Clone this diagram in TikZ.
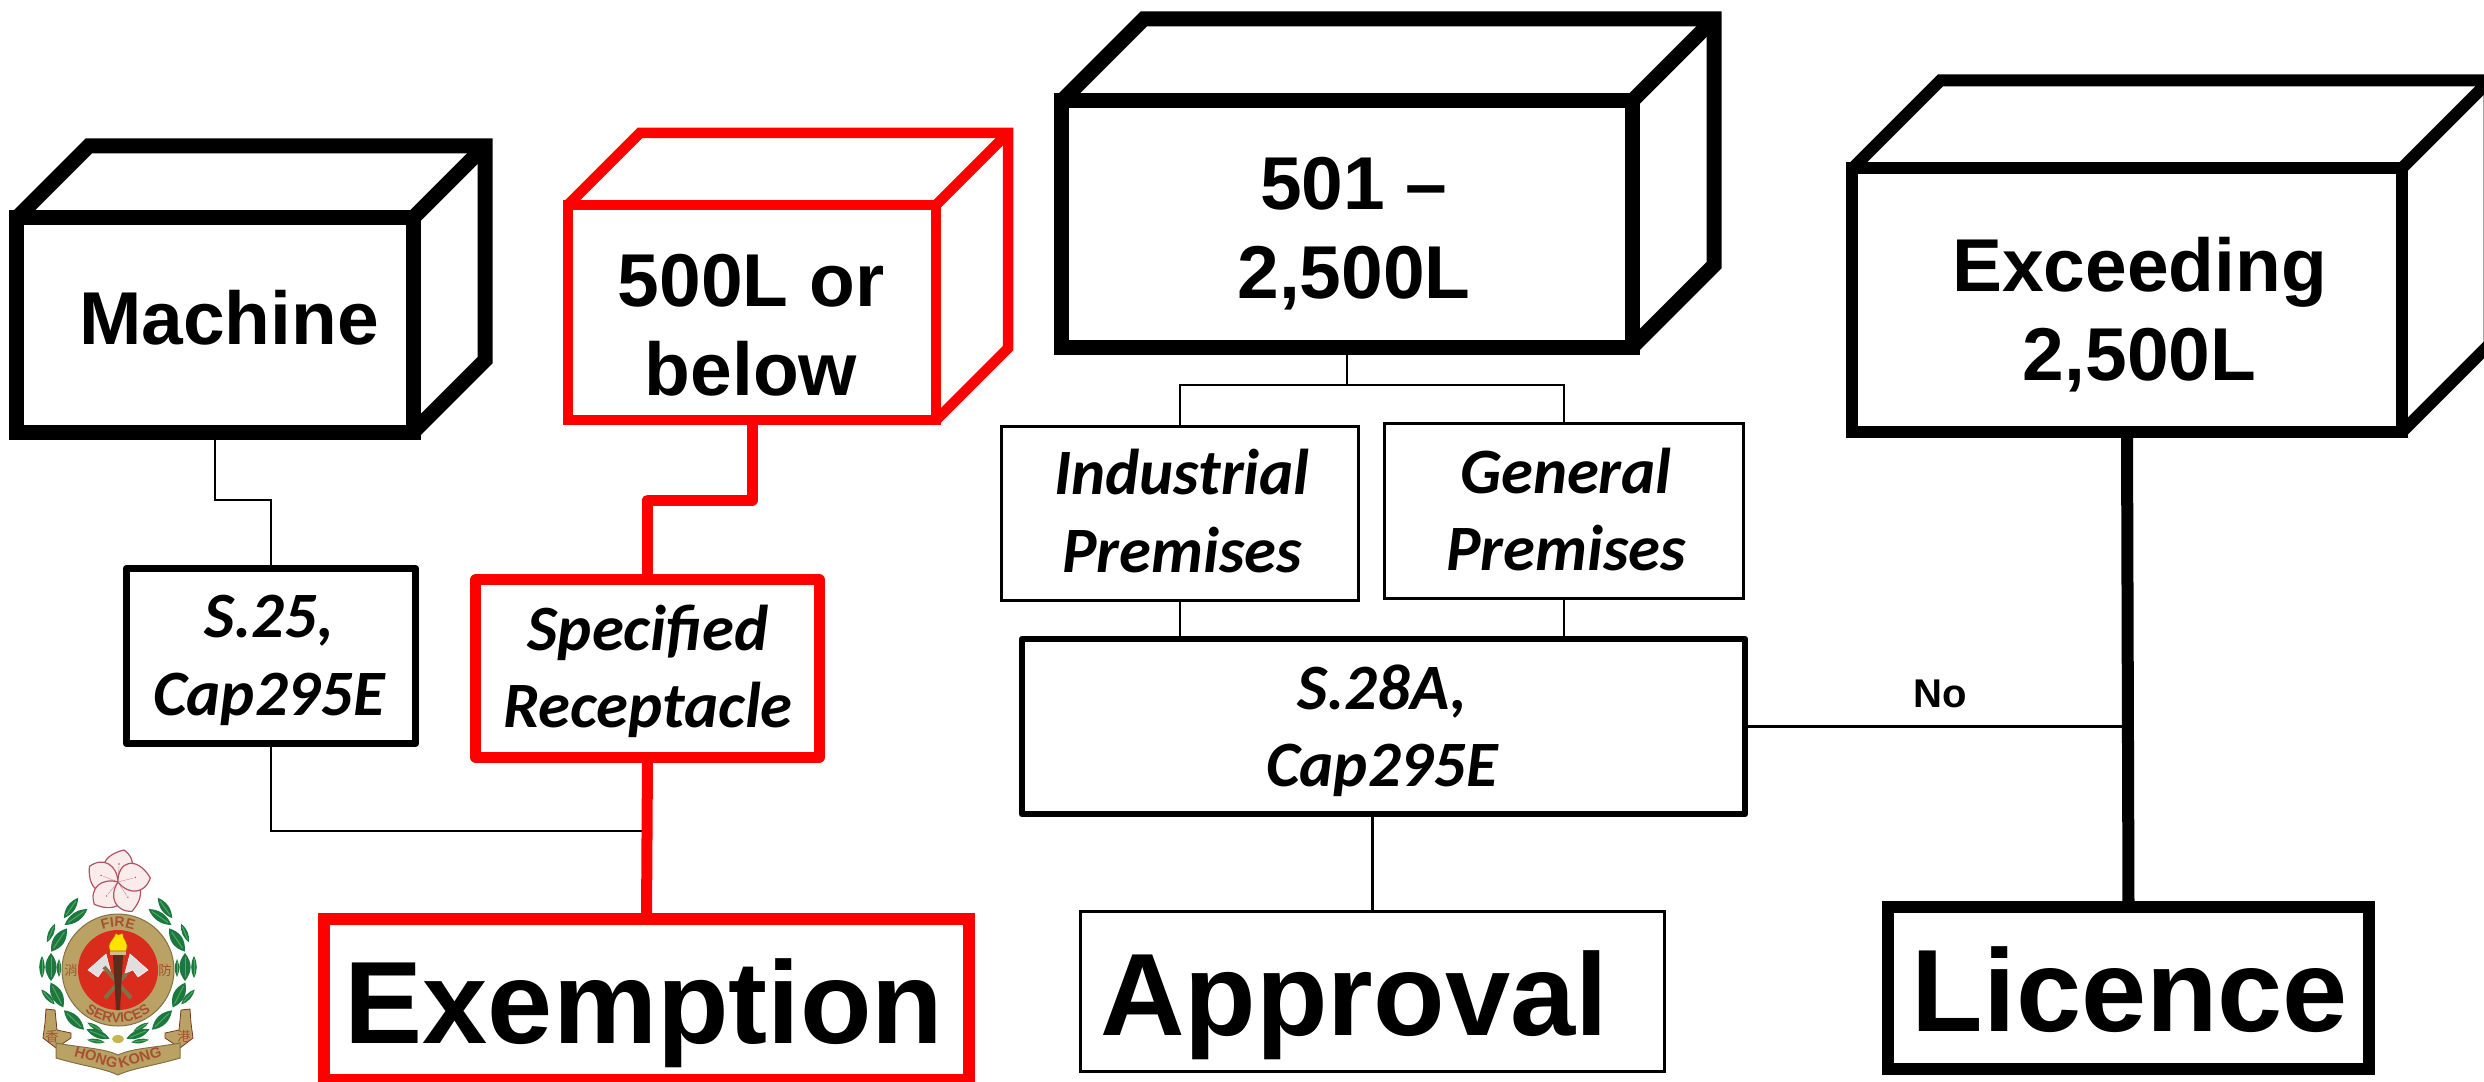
\documentclass[tikz,border=0pt]{standalone}
\usepackage{fontspec}
\setmainfont{Liberation Sans}
\newfontfamily\labelfont{Carlito}
\newfontfamily\hkfont{Noto Sans CJK TC}
\usetikzlibrary{decorations.text}
\definecolor{boxred}{RGB}{255,0,0}
\definecolor{crestgold}{RGB}{186,162,100}
\definecolor{crestred}{RGB}{218,44,28}
\definecolor{cresttext}{RGB}{168,80,50}
\definecolor{leafdark}{RGB}{28,120,64}
\definecolor{leaflight}{RGB}{80,170,90}
\definecolor{petal}{RGB}{250,236,234}
\definecolor{petaledge}{RGB}{176,84,100}
\newcommand{\cuboid}[4][black]{
    \draw[color=#1,line width=#4] (#2.north west) -- ++(#3,-#3)
        -- ([shift={(#3,-#3)}]#2.north east) -- ([shift={(#3,-#3)}]#2.south east) -- (#2.south east);
    \draw[color=#1,line width=#4] (#2.north east) -- ++(#3,-#3);
}
\newcommand{\wreathleaf}[5]{
    \begin{scope}[shift={(#1,#2)},rotate=#3]
        \fill[leafdark] (-#4,0) .. controls (-#4/3,#5*1.5) and (#4/3,#5*1.5) .. (#4,0) .. controls (#4/3,-#5*1.5) and (-#4/3,-#5*1.5) .. (-#4,0);
        \draw[leaflight,line width=.1mm] (-#4*.7,0) -- (#4*.7,0);
    \end{scope}
}
\tikzset{
    boxbase/.style={draw,rectangle,inner sep=0pt,outer sep=0pt},
    bigtxt/.style={anchor=base,align=center,font=\bfseries\fontsize{21.3}{25.3}\selectfont},
    hugetxt/.style={anchor=base,align=center,font=\bfseries\fontsize{33.3}{38}\selectfont},
    smalltxt/.style={anchor=base,align=center,font=\labelfont\bfseries\itshape\fontsize{18.4}{21.9}\selectfont},
    wire/.style={line width=.25mm},
    redwire/.style={color=boxred,line width=1.1mm,line join=round},
    blackwire/.style={line width=1.2mm},
}
\begin{document}
\begin{tikzpicture}[x=0.01cm,y=-0.01cm]
    \useasboundingbox (0,0) rectangle (2484,1081);

    \node[boxbase,line width=1.5mm,minimum width=39.6mm,minimum height=21.4mm] (machine) at (215,325) {};
    \node[boxbase,color=boxred,line width=1.05mm,minimum width=36.8mm,minimum height=21.5mm] (fivehundred) at (752,312.5) {};
    \node[boxbase,line width=1.5mm,minimum width=57mm,minimum height=24.6mm] (midrange) at (1347,224) {};
    \node[boxbase,line width=1.2mm,minimum width=54.9mm,minimum height=26.35mm] (exceeding) at (2127,300.25) {};
    \cuboid{machine}{72}{1.5mm}
    \cuboid[boxred]{fivehundred}{72}{1.05mm}
    \cuboid{midrange}{82}{1.5mm}
    \cuboid{exceeding}{88}{1.2mm}

    \node[boxbase,line width=.7mm,line join=round,minimum width=28.95mm,minimum height=17.5mm] (sectwofive) at (271,656) {};
    \node[boxbase,color=boxred,line width=1.1mm,line join=round,minimum width=34.3mm,minimum height=17.7mm] (specified) at (647.5,668.5) {};
    \node[boxbase,line width=.3mm,minimum width=35.7mm,minimum height=17.4mm] (industrial) at (1180,513.5) {};
    \node[boxbase,line width=.3mm,minimum width=35.9mm,minimum height=17.4mm] (general) at (1564,511) {};
    \node[boxbase,line width=.6mm,line join=round,minimum width=72.3mm,minimum height=17.5mm] (sectwoeight) at (1383.5,726.5) {};

    \node[boxbase,color=boxred,line width=1.2mm,minimum width=64.5mm,minimum height=16.1mm] (exemption) at (646.5,999.5) {};
    \node[boxbase,line width=.3mm,minimum width=58.4mm,minimum height=16mm] (approval) at (1372.5,991.5) {};
    \node[boxbase,line width=1.2mm,minimum width=48.1mm,minimum height=16.2mm] (licence) at (2128.5,988) {};

    \coordinate (machinejog) at (0,500);
    \coordinate (redjog) at (0,500);
    \coordinate (redjoin) at (647,831);
    \coordinate (split) at (1347,385);

    \draw[wire] (machine.south) -- (machine.south |- machinejog) -| (sectwofive.north);
    \draw[wire] (sectwofive.south) |- (redjoin);
    \draw[redwire] (fivehundred.south) -- (fivehundred.south |- redjog) -| (specified.north);
    \draw[redwire] (specified.south) -- (exemption.north);
    \draw[wire] (midrange.south) -- (split);
    \draw[wire] (split) -| (industrial.north);
    \draw[wire] (split) -| (general.north);
    \draw[wire] (industrial.south) -- (industrial.south |- sectwoeight.north);
    \draw[wire] (general.south) -- (general.south |- sectwoeight.north);
    \draw[wire] (approval.north) -- (approval.north |- sectwoeight.south);
    \draw[wire] (sectwoeight.east) -- (sectwoeight.east -| exceeding.south);
    \draw[blackwire] (exceeding.south) -- (licence.north);

    \node[bigtxt] (machinetxt) at (229,344) {Machine};
    \node[bigtxt] (fivehundredtxt) at (751,395) {500L or\\below};
    \node[bigtxt] (midrangetxt) at (1354,298) {501 --\\2,500L};
    \node[bigtxt] (exceedingtxt) at (2139.5,380) {Exceeding\\2,500L};
    \node[smalltxt] (sectwofivetxt) at (269,715) {S.25,\\Cap295E};
    \node[smalltxt] (specifiedtxt) at (648,727) {Specified\\Receptacle};
    \node[smalltxt] (industrialtxt) at (1182,572) {Industrial\\Premises};
    \node[smalltxt] (generaltxt) at (1566,570.7) {General\\Premises};
    \node[smalltxt] (sectwoeighttxt) at (1382,786) {S.28A,\\Cap295E};
    \node[hugetxt] (exemptiontxt) at (644,1043) {Exemption};
    \node[hugetxt] (approvaltxt) at (1354,1035) {Approval};
    \node[hugetxt] (licencetxt) at (2130,1031) {Licence};
    \node[anchor=base,font=\bfseries\fontsize{11.4}{13}\selectfont] (notxt) at (1940,707) {No};

    \begin{scope}[shift={(118,970)},x=0.01cm,y=0.01cm]
        \foreach \s in {1,-1} {
            \begin{scope}[xscale=\s]
                \foreach \px/\py/\r/\l/\w in {-47/62/55/12.5/3.5,-42/53/35/14/4,-59/30/56/14/5,-67/37/67/10/2.5,-67/3/90/14/5,-76/3/90/11/2.5,-59/2/90/9/2,-61/-25/-63/14/5,-70/-27/-48/10/2.5,-44/-50/-44/14/4.5,-20/-64/-22/12.5/3.5,-23/-57/-30/9/2,-22/-71/-8/9/2} {
                    \wreathleaf{\px}{\py}{\r}{\l}{\w}
                }
                \draw[fill=crestgold,draw=cresttext!70!black,line width=.08mm] (-72,-39) -- (-63,-40) -- (-61,-60) -- (-47,-63) -- (-47,-68) -- (-62,-78) -- (-75,-68) -- (-73,-53) -- cycle;
            \end{scope}
        }
        \draw[fill=crestgold,draw=crestgold!70!black,line width=.1mm] (0,0) circle (56);
        \fill[crestred] (0,0) circle (40);
        \draw[fill=crestgold,draw=crestgold!70!black,line width=.1mm] (-62,-73) .. controls (-35,-78) and (-15,-78) .. (0,-85) .. controls (15,-78) and (35,-78) .. (62,-73) -- (62,-88) .. controls (35,-96) and (15,-98) .. (0,-105) .. controls (-15,-98) and (-35,-96) .. (-62,-88) -- cycle;
        \fill[crestgold!80!yellow] (0,-69) ellipse (6 and 4);

        \foreach \s in {1,-1} {
            \begin{scope}[xscale=\s]
                \draw[crestgold!70!black,line width=.4mm] (-13,-28) -- (14,3);
                \draw[fill=gray!25,draw=white,line width=.05mm] (-12,16) -- (-30,0) -- (-20,-7) -- (-15,0) -- (-7,-3) -- cycle;
            \end{scope}
        }
        \fill[black!45!cresttext] (-5,15) -- (5,15) -- (2,-40) -- (-2,-40) -- cycle;
        \fill[crestgold!70!white] (-8,15) rectangle (8,19);
        \draw[fill=yellow!85!orange,draw=orange!70!black,line width=.06mm] (-8,19) .. controls (-12,28) and (-4,30) .. (-2,37) .. controls (1,33) and (3,38) .. (5,36) .. controls (4,31) and (12,28) .. (8,19) -- cycle;

        \path[decorate,decoration={text along path,text align=center,text={|\bfseries\fontsize{4}{5}\selectfont\color{cresttext}|FIRE}}] (130:43) arc (130:50:43);
        \path[decorate,decoration={text along path,text align=center,text={|\bfseries\fontsize{4}{5}\selectfont\color{cresttext}|SERVICES}}] (222:53) arc (222:318:53);
        \path[decorate,decoration={text along path,text align=center,text={|\bfseries\fontsize{4.2}{5}\selectfont\color{cresttext}|HONG KONG}}] (-52,-84) .. controls (-25,-91) and (-8,-98) .. (0,-99) .. controls (8,-98) and (25,-91) .. (52,-84);
        \node[text=cresttext,font=\hkfont\fontsize{3.8}{4}\selectfont,inner sep=0pt] (cjkleft) at (-47,0) {消};
        \node[text=cresttext,font=\hkfont\fontsize{3.8}{4}\selectfont,inner sep=0pt] (cjkright) at (47,0) {防};
        \node[text=cresttext,font=\hkfont\fontsize{3.8}{4}\selectfont,inner sep=0pt] (cjkband) at (-66,-66) {香};
        \node[text=cresttext,font=\hkfont\fontsize{3.8}{4}\selectfont,inner sep=0pt] (cjkbandb) at (66,-66) {港};

        \begin{scope}[shift={(0,88)}]
            \foreach \a in {0,72,144,216,288} {
                \begin{scope}[rotate=\a]
                    \draw[fill=petal,draw=petaledge,line width=.12mm] (0,0) .. controls (-20,6) and (-20,26) .. (6,32) .. controls (20,22) and (16,6) .. (0,0);
                    \draw[petaledge!60,line width=.05mm] (0,0) -- (1,16);
                    \fill[petaledge] (1,18) circle (.8);
                \end{scope}
            }
        \end{scope}
    \end{scope}
\end{tikzpicture}
\end{document}
